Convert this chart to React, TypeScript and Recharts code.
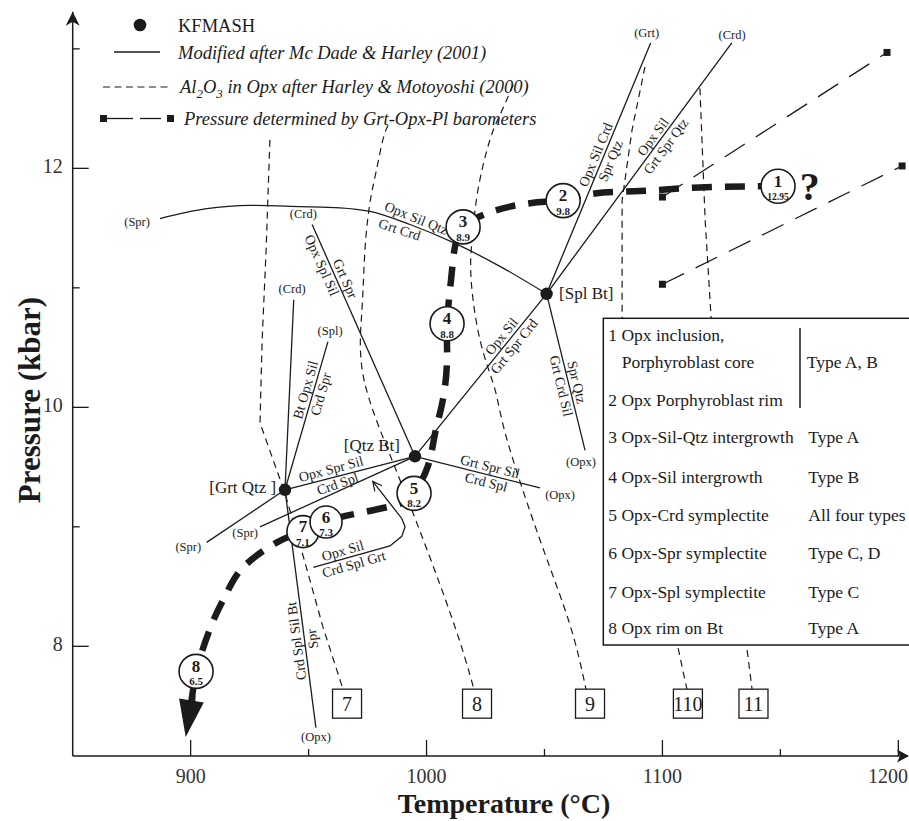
import React from "react";
import { ComposedChart, Line, Scatter, XAxis, YAxis } from "recharts";

const W = 909;
const H = 821;
const INK = "#1b1b1b";
const SERIF = '"Liberation Serif", "Times New Roman", serif';

// plot frame (px) shared by the chart margins and the overlay
const LEFT = 72.7;
const TOP = 11.7;
const RIGHT = 908;
const BOTTOM = 756;

const tempTicks = [900, 950, 1000, 1050, 1100, 1150, 1200];
const pressTicks = [8, 9, 10, 11, 12, 13];

// KFMASH invariant points (T °C, P kbar)
const grtQtz = { t: 940.0, p: 9.31 };
const qtzBt = { t: 995.1, p: 9.59 };
const splBt = { t: 1050.9, p: 10.95 };
const invariantPoints = [grtQtz, qtzBt, splBt];

// univariant reactions
const rxnCrdA = [grtQtz, { t: 943.7, p: 10.9 }];
const rxnSplA = [grtQtz, { t: 958.2, p: 10.55 }];
const rxnSprA = [{ t: 906.8, p: 8.87 }, grtQtz];
const rxnOpxA = [grtQtz, { t: 953.1, p: 7.32 }];
const rxnGrtQtzQtzBt = [grtQtz, qtzBt];
const rxnSprB = [{ t: 929.4, p: 9.0 }, qtzBt];
const rxnCrdB = [{ t: 951.5, p: 11.53 }, qtzBt];
const rxnOpxB = [qtzBt, { t: 1048.1, p: 9.325 }];
const rxnQtzBtSplBt = [qtzBt, splBt];
const rxnSprC = [
  { t: 887.0, p: 11.58 },
  { t: 906.1, p: 11.66 },
  { t: 925.2, p: 11.69 },
  { t: 946.4, p: 11.68 },
  { t: 963.3, p: 11.67 },
  { t: 976.0, p: 11.64 },
  { t: 993.0, p: 11.53 },
  { t: 1011.2, p: 11.38 },
  { t: 1031.1, p: 11.18 },
  splBt,
];
const rxnGrtC = [splBt, { t: 1095.0, p: 13.05 }];
const rxnCrdC = [splBt, { t: 1129.4, p: 13.05 }];
const rxnOpxC = [splBt, { t: 1067.2, p: 9.64 }];
const rxnOpxSil = [
  { t: 952.0, p: 8.66 },
  { t: 984.5, p: 8.84 },
  { t: 989.5, p: 8.92 },
  { t: 990.9, p: 9.0 },
  { t: 989.5, p: 9.07 },
  { t: 977.2, p: 9.38 },
];
const rxnOpxSilTip = [{ t: 977.2, p: 9.38 }];

// Al2O3-in-Opx isopleths
const iso7 = [
  { t: 933.6, p: 12.24 },
  { t: 932.0, p: 11.32 },
  { t: 930.3, p: 10.56 },
  { t: 929.4, p: 9.87 },
  { t: 940.0, p: 9.28 },
  { t: 948.5, p: 8.7 },
  { t: 956.1, p: 8.16 },
  { t: 964.6, p: 7.64 },
];
const iso8 = [
  { t: 983.7, p: 12.36 },
  { t: 981.5, p: 12.24 },
  { t: 978.6, p: 11.97 },
  { t: 976.0, p: 11.71 },
  { t: 973.9, p: 11.32 },
  { t: 972.6, p: 10.81 },
  { t: 973.5, p: 10.23 },
  { t: 988.8, p: 9.39 },
  { t: 1010.0, p: 8.28 },
  { t: 1020.1, p: 7.64 },
];
const iso9 = [
  { t: 1036.7, p: 12.7 },
  { t: 1031.2, p: 12.45 },
  { t: 1026.9, p: 12.24 },
  { t: 1021.8, p: 11.82 },
  { t: 1019.3, p: 11.4 },
  { t: 1018.9, p: 11.07 },
  { t: 1022.7, p: 10.56 },
  { t: 1029.0, p: 10.15 },
  { t: 1034.1, p: 9.73 },
  { t: 1048.1, p: 8.89 },
  { t: 1060.8, p: 8.18 },
  { t: 1067.6, p: 7.64 },
];
const iso10 = [
  { t: 1092.6, p: 12.85 },
  { t: 1087.1, p: 12.32 },
  { t: 1082.9, p: 11.73 },
  { t: 1082.9, p: 10.76 },
  { t: 1106.6, p: 7.99 },
  { t: 1110.4, p: 7.64 },
];
const iso11 = [
  { t: 1115.9, p: 12.67 },
  { t: 1118.1, p: 11.57 },
  { t: 1120.6, p: 10.76 },
  { t: 1135.9, p: 7.97 },
  { t: 1138.0, p: 7.64 },
];
const isoBoxT = [966.3, 1021.4, 1069.3, 1110.8, 1138.6];
const isoBoxText = ["7", "8", "9", "110", "11"];
const isoBoxP = 7.52;

// Grt-Opx-Pl barometry
const baroUpper = [
  { t: 1100, p: 11.76 },
  { t: 1195.2, p: 12.97 },
];
const baroLower = [
  { t: 1100, p: 11.03 },
  { t: 1201.6, p: 12.02 },
];

// P-T path through the textural stages
const ptPath = [
  { t: 1149.0, p: 11.85 },
  { t: 1115.9, p: 11.84 },
  { t: 1090.5, p: 11.81 },
  { t: 1071.4, p: 11.79 },
  { t: 1057.9, p: 11.73 },
  { t: 1050.2, p: 11.72 },
  { t: 1035.4, p: 11.68 },
  { t: 1022.7, p: 11.6 },
  { t: 1015.5, p: 11.51 },
  { t: 1012.1, p: 11.35 },
  { t: 1010.4, p: 11.07 },
  { t: 1008.7, p: 10.7 },
  { t: 1008.7, p: 10.4 },
  { t: 1007.0, p: 10.07 },
  { t: 1003.6, p: 9.78 },
  { t: 1000.6, p: 9.51 },
  { t: 994.7, p: 9.28 },
  { t: 986.6, p: 9.18 },
  { t: 967.6, p: 9.1 },
  { t: 957.4, p: 9.04 },
  { t: 947.6, p: 8.96 },
  { t: 936.6, p: 8.87 },
  { t: 922.2, p: 8.66 },
  { t: 915.4, p: 8.45 },
  { t: 909.5, p: 8.21 },
  { t: 902.3, p: 7.79 },
  { t: 900.6, p: 7.53 },
];
const ptPathTip = [{ t: 897.9, p: 7.24 }];

const stageNo = ["1", "2", "3", "4", "5", "6", "7", "8"];
const stageAl = ["12.95", "9.8", "8.9", "8.8", "8.2", "7.3", "7.1", "6.5"];
const stageT = [1149.0, 1057.9, 1015.5, 1008.7, 994.7, 957.4, 947.6, 902.3];
const stageP = [11.85, 11.73, 11.51, 10.7, 9.28, 9.04, 8.96, 7.79];
const unknownMark = [{ t: 1162.4, p: 11.85 }];

const reactionLabels = [
  { t: 994.3, p: 11.52, angle: 22, side: "a", text: "Opx Sil Qtz" },
  { t: 989.6, p: 11.55, angle: 18, side: "b", text: "Grt Crd" },
  { t: 958.6, p: 11.216, angle: 66, side: "b", text: "Opx Spl Sil" },
  { t: 962.4, p: 11.05, angle: 66, side: "a", text: "Grt Spr" },
  { t: 952.0, p: 10.128, angle: -74, side: "a", text: "Bt Opx Sil" },
  { t: 952.0, p: 10.128, angle: -74, side: "b", text: "Crd Spr" },
  { t: 960.4, p: 9.417, angle: -15, side: "a", text: "Opx Spr Sil" },
  { t: 961.2, p: 9.421, angle: -19, side: "b", text: "Crd Spl" },
  { t: 965.4, p: 8.734, angle: -16, side: "a", text: "Opx Sil" },
  { t: 968.3, p: 8.75, angle: -16, side: "b", text: "Crd Spl Grt" },
  { t: 1026.1, p: 9.437, angle: 14, side: "a", text: "Grt Spr Sil" },
  { t: 1026.1, p: 9.437, angle: 14, side: "b", text: "Crd Spl" },
  { t: 1034.5, p: 10.551, angle: -51, side: "a", text: "Opx Sil" },
  { t: 1034.5, p: 10.551, angle: -51, side: "b", text: "Grt Spr Crd" },
  { t: 1060.3, p: 10.195, angle: 76.5, side: "a", text: "Spr Qtz" },
  { t: 1060.3, p: 10.195, angle: 76.5, side: "b", text: "Grt Crd Sil" },
  { t: 1074.9, p: 12.088, angle: -67.5, side: "a", text: "Opx Sil Crd" },
  { t: 1074.9, p: 12.088, angle: -67.5, side: "b", text: "Spr Qtz" },
  { t: 1098.8, p: 12.224, angle: -53.6, side: "a", text: "Opx Sil" },
  { t: 1098.8, p: 12.224, angle: -53.6, side: "b", text: "Grt Spr Qtz" },
  { t: 948.3, p: 8.053, angle: -97.4, side: "a", text: "Crd Spl Sil Bt" },
  { t: 948.3, p: 8.053, angle: -97.4, side: "b", text: "Spr" },
];

const absentLabels = [
  { t: 877.3, p: 11.55, text: "(Spr)" },
  { t: 947.8, p: 11.62, text: "(Crd)" },
  { t: 943.0, p: 10.99, text: "(Crd)" },
  { t: 959.1, p: 10.64, text: "(Spl)" },
  { t: 899.0, p: 8.83, text: "(Spr)" },
  { t: 923.1, p: 8.95, text: "(Spr)" },
  { t: 953.1, p: 7.24, text: "(Opx)" },
  { t: 1056.6, p: 9.27, text: "(Opx)" },
  { t: 1065.5, p: 9.54, text: "(Opx)" },
  { t: 1093.3, p: 13.13, text: "(Grt)" },
  { t: 1129.5, p: 13.12, text: "(Crd)" },
];

const pointNames = [
  { t: 922.1, p: 9.33, text: "[Grt Qtz ]", anchor: "middle" },
  { t: 976.8, p: 9.684, text: "[Qtz Bt]", anchor: "middle" },
  { t: 1056.2, p: 10.95, text: "[Spl Bt]", anchor: "start" },
];

const tableItems = [
  "1 Opx inclusion,",
  "Porphyroblast core",
  "2 Opx Porphyroblast rim",
  "3 Opx-Sil-Qtz intergrowth",
  "4 Opx-Sil intergrowth",
  "5 Opx-Crd symplectite",
  "6 Opx-Spr symplectite",
  "7 Opx-Spl symplectite",
  "8 Opx rim on Bt",
];
const tableTypes = ["", "Type A, B", "", "Type A", "Type B", "All four types", "Type C, D", "Type C", "Type A"];
const tableRowY = [341, 367.7, 406, 442.7, 482.7, 521, 559.3, 597.7, 634.3];

const stages = stageNo.map((no, i) => ({ no, al: stageAl[i], t: stageT[i], p: stageP[i] }));
const isoBoxes = isoBoxT.map((t, i) => ({ t, p: isoBoxP, text: isoBoxText[i] }));

const renderTempTick = (props: any) => {
  const { x, y, payload } = props;
  const major = payload.value % 100 === 0;
  // the last label is pulled in so it stays inside the frame
  const last = payload.value === tempTicks[tempTicks.length - 1];
  return (
    <g>
      <line x1={x} x2={x} y1={y} y2={y - (major ? 16 : 7)} stroke={INK} strokeWidth={1.3} />
      {major && (
        <text
          x={last ? W - 1 : x}
          y={y + 27}
          textAnchor={last ? "end" : "middle"}
          fontSize={20}
          fill="#333"
        >
          {payload.value}
        </text>
      )}
    </g>
  );
};

const renderPressTick = (props: any) => {
  const { x, y, payload } = props;
  const major = payload.value % 2 === 0;
  return (
    <g>
      <line x1={x} x2={x + (major ? 16 : 7)} y1={y} y2={y} stroke={INK} strokeWidth={1.3} />
      {major && (
        <text x={x - 10} y={y + 4.5} textAnchor="end" fontSize={20} fill="#333">
          {payload.value}
        </text>
      )}
    </g>
  );
};

const renderDot = (props: any) => <circle cx={props.cx} cy={props.cy} r={6.2} fill={INK} />;

const renderSquare = (props: any) => (
  <rect key={props.index} x={props.cx - 3.5} y={props.cy - 3.5} width={7} height={7} fill={INK} />
);

const renderStage = (props: any) => {
  const { cx, cy, payload } = props;
  const r = payload.no === "6" || payload.no === "7" ? 16 : 17;
  return (
    <g>
      <circle cx={cx} cy={cy} r={r} fill="#fff" stroke={INK} strokeWidth={1.6} />
      <text x={cx} y={cy + 0.5} textAnchor="middle" fontSize={17} fontWeight="bold" fill={INK}>
        {payload.no}
      </text>
      <text
        x={cx}
        y={cy + 14}
        textAnchor="middle"
        fontSize={payload.al.length > 3 ? 9.5 : 11}
        fontWeight="bold"
        fill={INK}
      >
        {payload.al}
      </text>
    </g>
  );
};

const renderIsoBox = (props: any) => {
  const { cx, cy, payload } = props;
  return (
    <g>
      <rect x={cx - 14.5} y={cy - 14.5} width={29} height={29} fill="#fff" stroke={INK} strokeWidth={1.3} />
      <text x={cx} y={cy + 7} textAnchor="middle" fontSize={20} fill={INK}>
        {payload.text}
      </text>
    </g>
  );
};

const renderReactionLabel = (props: any) => {
  const { cx, cy, payload } = props;
  const dy = payload.side === "a" ? -3.5 : 12.5;
  return (
    <text
      x={cx}
      y={cy + dy}
      transform={`rotate(${payload.angle} ${cx} ${cy})`}
      textAnchor="middle"
      fontSize={14}
      fill={INK}
    >
      {payload.text}
    </text>
  );
};

const renderAbsentLabel = (props: any) => (
  <text x={props.cx} y={props.cy + 4} textAnchor="middle" fontSize={12.5} fill={INK}>
    {props.payload.text}
  </text>
);

const renderPointName = (props: any) => (
  <text x={props.cx} y={props.cy + 5.5} textAnchor={props.payload.anchor} fontSize={17} fill={INK}>
    {props.payload.text}
  </text>
);

const renderPathHead = (props: any) => {
  const { cx, cy } = props;
  return (
    <g fill={INK}>
      <polygon points={`${cx},${cy} ${cx - 6.6},${cy - 38.6} ${cx + 18.1},${cy - 34.6}`} />
      <polygon points={`${cx + 2.5},${cy - 36} ${cx + 9},${cy - 36} ${cx + 11},${cy - 50} ${cx + 4.5},${cy - 50}`} />
    </g>
  );
};

const renderOpenHead = (props: any) => (
  <path
    d="M -9 -4.5 L 0 0 L -9 4.5"
    transform={`translate(${props.cx} ${props.cy}) rotate(-128.4)`}
    fill="none"
    stroke={INK}
    strokeWidth={1.2}
  />
);

const renderQuery = (props: any) => (
  <text x={props.cx} y={props.cy + 14} textAnchor="middle" fontSize={40} fontWeight="bold" fill={INK}>
    ?
  </text>
);

const solidReactions = [
  rxnCrdA,
  rxnSplA,
  rxnSprA,
  rxnOpxA,
  rxnGrtQtzQtzBt,
  rxnSprB,
  rxnCrdB,
  rxnOpxB,
  rxnQtzBtSplBt,
  rxnGrtC,
  rxnCrdC,
  rxnOpxC,
  rxnOpxSil,
];
const isopleths = [
  { data: iso7, type: "linear" },
  { data: iso8, type: "natural" },
  { data: iso9, type: "natural" },
  { data: iso10, type: "linear" },
  { data: iso11, type: "linear" },
];

function Overlay() {
  return (
    <svg
      width={W}
      height={H}
      style={{ position: "absolute", left: 0, top: 0, pointerEvents: "none", fontFamily: SERIF }}
    >
      {/* axis arrows */}
      <path d={`M ${RIGHT + 1} ${BOTTOM} L ${RIGHT - 11} ${BOTTOM - 6.5} L ${RIGHT - 8} ${BOTTOM} L ${RIGHT - 11} ${BOTTOM + 6.5} Z`} fill={INK} />
      <path d={`M ${LEFT} ${TOP} L ${LEFT - 7} ${TOP + 14} L ${LEFT} ${TOP + 10} L ${LEFT + 7} ${TOP + 14} Z`} fill={INK} />

      {/* axis titles */}
      <text x={504} y={813} textAnchor="middle" fontSize={28} fontWeight="bold" fill={INK}>
        Temperature (°C)
      </text>
      <text
        x={40}
        y={400}
        transform="rotate(-90 40 400)"
        textAnchor="middle"
        fontSize={31}
        fontWeight="bold"
        fill={INK}
      >
        Pressure (kbar)
      </text>

      {/* legend */}
      <circle cx={140} cy={25} r={6.3} fill={INK} />
      <text x={178} y={32} fontSize={18.5} fill={INK}>
        KFMASH
      </text>
      <line x1={114} x2={160} y1={52} y2={52} stroke={INK} strokeWidth={1.3} />
      <text x={178} y={59} fontSize={18.5} fontStyle="italic" fill={INK}>
        Modified after Mc Dade &amp; Harley (2001)
      </text>
      <line x1={103} x2={172} y1={87} y2={87} stroke={INK} strokeWidth={1.2} strokeDasharray="7 4.5" />
      <text x={180} y={93} fontSize={18.5} fontStyle="italic" fill={INK}>
        <tspan>Al</tspan>
        <tspan dy={5} fontSize={13}>
          2
        </tspan>
        <tspan dy={-5}>O</tspan>
        <tspan dy={5} fontSize={13}>
          3
        </tspan>
        <tspan dy={-5}> in Opx after Harley &amp; Motoyoshi (2000)</tspan>
      </text>
      <rect x={100} y={115} width={7} height={7} fill={INK} />
      <line x1={107} x2={133} y1={118.5} y2={118.5} stroke={INK} strokeWidth={1.3} />
      <line x1={140} x2={161} y1={118.5} y2={118.5} stroke={INK} strokeWidth={1.3} />
      <rect x={167} y={115} width={7} height={7} fill={INK} />
      <text x={184} y={125} fontSize={18.5} fontStyle="italic" fill={INK}>
        Pressure determined by Grt-Opx-Pl barometers
      </text>

      {/* textural stages table */}
      <rect x={603.3} y={318.3} width={320} height={326.7} fill="#fff" stroke={INK} strokeWidth={1.5} />
      <line x1={800} x2={800} y1={328} y2={408} stroke={INK} strokeWidth={1.5} />
      {tableItems.map((item, i) => (
        <text key={item} x={i === 1 ? 621.7 : 608.3} y={tableRowY[i]} fontSize={17.5} fill={INK}>
          {item}
        </text>
      ))}
      {tableTypes.map((tp, i) =>
        tp ? (
          <text key={i} x={i === 1 ? 806.7 : 808.3} y={tableRowY[i]} fontSize={17.5} fill={INK}>
            {tp}
          </text>
        ) : null
      )}
    </svg>
  );
}

export default function App() {
  return (
    <div style={{ position: "relative", width: W, height: H, background: "#fff", fontFamily: SERIF }}>
      <style>{"body{margin:0}"}</style>
      <ComposedChart
        width={W}
        height={H}
        margin={{ top: TOP, right: W - RIGHT, left: LEFT - 60, bottom: H - BOTTOM - 30 }}
      >
        <XAxis
          type="number"
          dataKey="t"
          domain={[850, 1204.1]}
          ticks={tempTicks}
          interval={0}
          tick={renderTempTick}
          tickLine={false}
          tickSize={0}
          tickMargin={0}
          axisLine={{ stroke: INK, strokeWidth: 1.5 }}
          height={30}
          allowDataOverflow
        />
        <YAxis
          type="number"
          dataKey="p"
          domain={[7.082, 13.311]}
          ticks={pressTicks}
          interval={0}
          tick={renderPressTick}
          tickLine={false}
          tickSize={0}
          tickMargin={0}
          axisLine={{ stroke: INK, strokeWidth: 1.5 }}
          width={60}
          allowDataOverflow
        />

        {isopleths.map((iso, i) => (
          <Line
            key={`iso${i}`}
            data={iso.data}
            dataKey="p"
            type={iso.type as any}
            stroke={INK}
            strokeWidth={1.2}
            strokeDasharray="7 5"
            dot={false}
            isAnimationActive={false}
          />
        ))}

        {solidReactions.map((rxn, i) => (
          <Line
            key={`rxn${i}`}
            data={rxn}
            dataKey="p"
            type="linear"
            stroke={INK}
            strokeWidth={1.3}
            dot={false}
            isAnimationActive={false}
          />
        ))}
        <Line
          data={rxnSprC}
          dataKey="p"
          type="monotone"
          stroke={INK}
          strokeWidth={1.3}
          dot={false}
          isAnimationActive={false}
        />

        <Line
          data={baroUpper}
          dataKey="p"
          type="linear"
          stroke={INK}
          strokeWidth={1.3}
          strokeDasharray="24 13"
          dot={renderSquare}
          isAnimationActive={false}
        />
        <Line
          data={baroLower}
          dataKey="p"
          type="linear"
          stroke={INK}
          strokeWidth={1.3}
          strokeDasharray="24 13"
          dot={renderSquare}
          isAnimationActive={false}
        />

        <Line
          data={ptPath}
          dataKey="p"
          type="natural"
          stroke={INK}
          strokeWidth={6.5}
          strokeDasharray="20 13"
          dot={false}
          isAnimationActive={false}
        />
        <Scatter data={ptPathTip} shape={renderPathHead} isAnimationActive={false} />
        <Scatter data={rxnOpxSilTip} shape={renderOpenHead} isAnimationActive={false} />

        <Scatter data={invariantPoints} shape={renderDot} isAnimationActive={false} />
        <Scatter data={isoBoxes} shape={renderIsoBox} isAnimationActive={false} />
        <Scatter data={reactionLabels} shape={renderReactionLabel} isAnimationActive={false} />
        <Scatter data={absentLabels} shape={renderAbsentLabel} isAnimationActive={false} />
        <Scatter data={pointNames} shape={renderPointName} isAnimationActive={false} />
        <Scatter data={[...stages].reverse()} shape={renderStage} isAnimationActive={false} />
        <Scatter data={unknownMark} shape={renderQuery} isAnimationActive={false} />
      </ComposedChart>
      <Overlay />
    </div>
  );
}
